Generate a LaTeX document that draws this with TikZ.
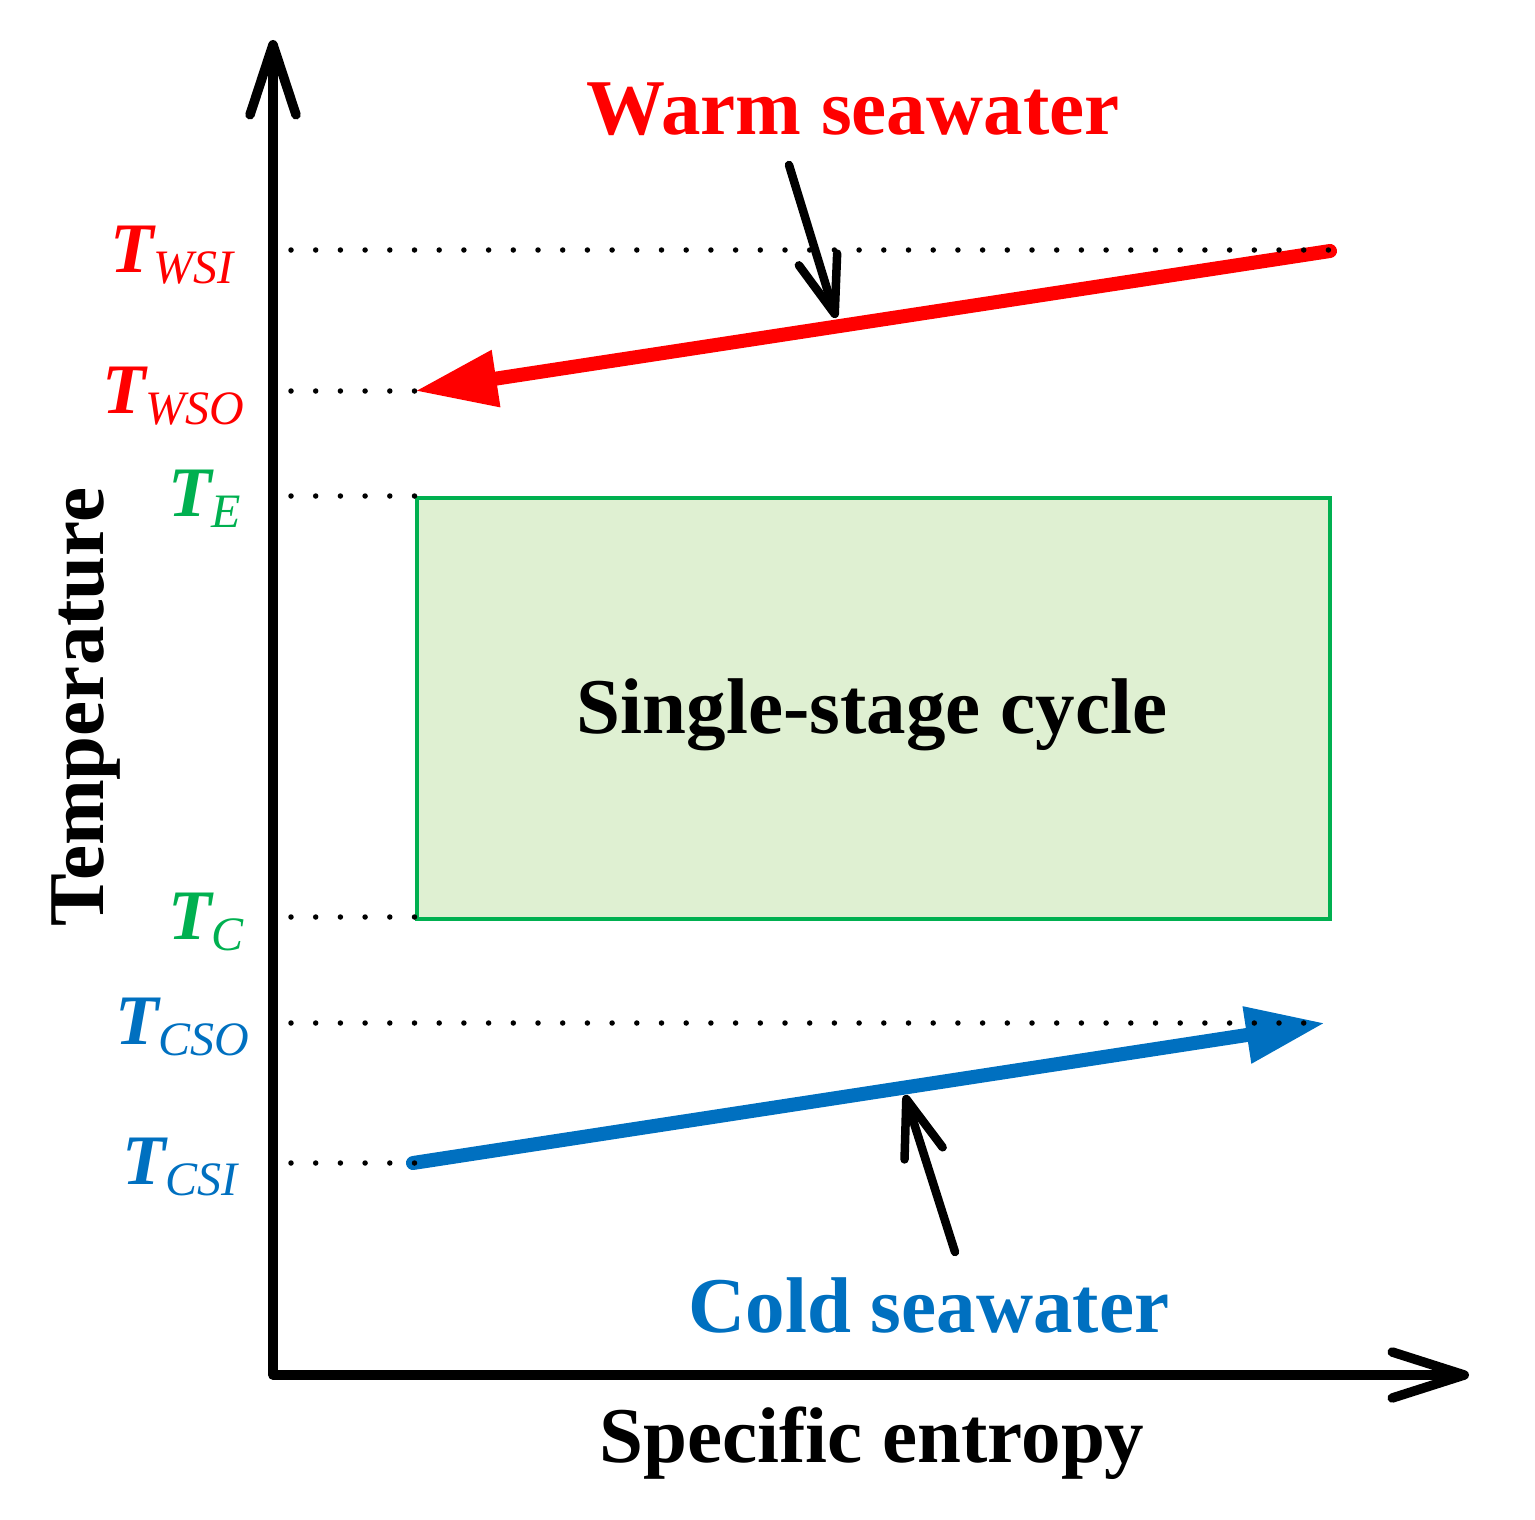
\documentclass[tikz,border=0pt]{standalone}
\usepackage{fontspec}
\setmainfont{Liberation Serif}
\usetikzlibrary{arrows.meta}
\definecolor{wred}{HTML}{FF0000}
\definecolor{cblue}{HTML}{0070C0}
\definecolor{cgreen}{HTML}{00B050}
\definecolor{cfill}{HTML}{DFF0D2}
\newcommand\mkT[1]{{\fontsize{71}{71}\selectfont\bfseries\itshape T}\raisebox{-11pt}{\fontsize{48}{48}\selectfont\itshape #1}}
\begin{document}
\begin{tikzpicture}[x=1pt,y=-1pt,
  axisline/.style={line width=9.5pt, line cap=round, line join=round},
  dotline/.style={line width=5.5pt, line cap=round, dash pattern=on 0pt off 24.7pt},
  bigtext/.style={font=\fontsize{79}{79}\selectfont\bfseries, inner sep=0pt},
  tlab/.style={inner sep=0pt, anchor=base west},
  ptr/.style={line width=8.5pt, line cap=round, -{Straight Barb[length=57pt,width=40pt,round]}},
  flow/.style={line width=14pt, line cap=round}]
\useasboundingbox (0,0) rectangle (1535,1520);
% coordinates
\coordinate (O) at (273,1375);
\coordinate (Ytip) at (273,40);
\coordinate (Xtip) at (1469,1375);
% axes
\draw[axisline, {Straight Barb[length=70pt,width=46pt,round]}-{Straight Barb[length=72pt,width=46pt,round]}] (Ytip) -- (O) -- (Xtip);
% cycle box
\node[draw=cgreen, fill=cfill, line width=3.8pt, minimum width=913pt, minimum height=421pt, anchor=north west, inner sep=0pt] (box) at (415,496) {};
\node[bigtext, anchor=base] (cyc) at (872,733) {Single-stage cycle};
% warm seawater flow
\coordinate (wsi) at (1330,251);
\coordinate (wso) at (415,391);
\draw[flow, wred, -{Triangle[length=82pt,width=54pt]}] (wsi) -- (wso);
% cold seawater flow
\coordinate (csi) at (413,1163);
\coordinate (cso) at (1325,1023);
\draw[flow, cblue, -{Triangle[length=79pt,width=54pt]}] (csi) -- (cso);
% pointers
\coordinate (p1s) at (789,165);
\coordinate (p1e) at (836,318);
\coordinate (p2s) at (955,1252);
\coordinate (p2e) at (905,1095);
\draw[ptr] (p1s) -- (p1e);
\draw[ptr] (p2s) -- (p2e);
% dotted level lines (on top)
\draw[dotline] (291,250) -- (1330,250);
\draw[dotline] (291,391) -- (415,391);
\draw[dotline] (291,496) -- (415,496);
\draw[dotline] (291,917) -- (415,917);
\draw[dotline] (291,1023) -- (1325,1023);
\draw[dotline] (291,1163) -- (415,1163);
% labels
\node[bigtext, text=wred, anchor=base] (warm) at (853,135) {Warm seawater};
\node[bigtext, text=cblue, anchor=base] (cold) at (929,1332) {Cold seawater};
\node[bigtext, anchor=base] (xlab) at (872,1462) {Specific entropy};
\node[bigtext, anchor=base, rotate=90] (ylab) at (103,707) {Temperature};
\node[tlab, text=wred] (twsi) at (110,272) {\mkT{WSI}};
\node[tlab, text=wred] (twso) at (102,413) {\mkT{WSO}};
\node[tlab, text=cgreen] (te) at (168,516) {\mkT{E}};
\node[tlab, text=cgreen] (tc) at (168,939) {\mkT{C}};
\node[tlab, text=cblue] (tcso) at (115,1044) {\mkT{CSO}};
\node[tlab, text=cblue] (tcsi) at (122,1184) {\mkT{CSI}};
\end{tikzpicture}
\end{document}
